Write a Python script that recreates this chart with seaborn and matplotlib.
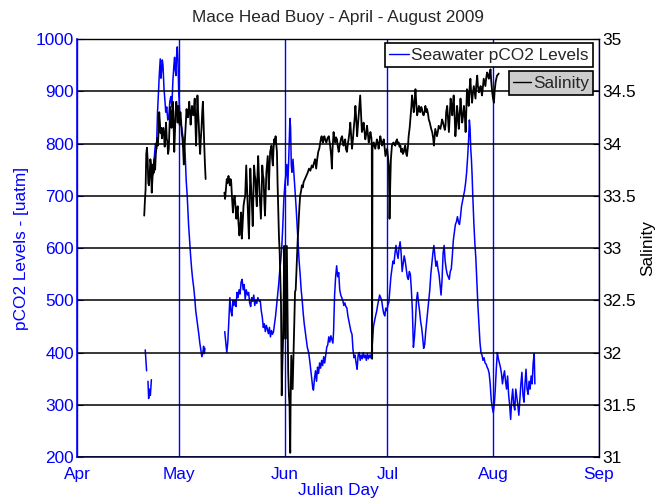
import numpy as np
import pandas as pd
import matplotlib
matplotlib.use('Agg')
import matplotlib.pyplot as plt
import seaborn as sns
from matplotlib.lines import Line2D

# Mace Head buoy, pCO2 and salinity vs julian day
month_days = [91, 121, 152, 182, 213, 244]
month_labels = ['Apr', 'May', 'Jun', 'Jul', 'Aug', 'Sep']
pco2_ticks = [200, 300, 400, 500, 600, 700, 800, 900, 1000]
sal_ticks = [31, 31.5, 32, 32.5, 33, 33.5, 34, 34.5, 35]

# pCO2 (uatm), one list per unbroken stretch of record
pco2_a = [(111.0, 405), (111.2, 385), (111.4, 365)]
pco2_b = [(111.8, 345), (112.0, 312), (112.2, 330), (112.5, 318), (112.8, 348)]
pco2_c = [(113.3, 740), (113.6, 770), (114.0, 800), (114.3, 790), (114.6, 860), (114.9, 900),
          (115.1, 930), (115.4, 962), (115.6, 925), (115.8, 940), (116.0, 960), (116.2, 950),
          (116.5, 905), (116.8, 880), (117.0, 860), (117.3, 870), (117.6, 845), (117.9, 850),
          (118.2, 880), (118.5, 890), (118.8, 870), (119.1, 920), (119.4, 950), (119.6, 965),
          (119.8, 940), (120.0, 930), (120.2, 970), (120.4, 985), (120.6, 960), (120.8, 900),
          (121.1, 860), (121.4, 840), (121.7, 830), (122.0, 815), (122.4, 800), (122.7, 780),
          (123.0, 730), (123.3, 700), (123.7, 645), (124.0, 615), (124.3, 585), (124.6, 560),
          (124.9, 540), (125.2, 525), (125.5, 505), (125.8, 480), (126.1, 465), (126.4, 450),
          (126.7, 435), (127.0, 418), (127.3, 405), (127.6, 392), (127.9, 400), (128.1, 412),
          (128.3, 398), (128.5, 408)]
pco2_d = [(134.3, 440), (134.6, 420), (134.9, 400), (135.2, 420), (135.5, 460), (135.8, 505),
          (136.1, 480), (136.4, 470), (136.7, 500), (137.0, 490), (137.3, 500), (137.6, 488),
          (137.9, 515), (138.2, 505), (138.5, 520), (138.8, 512), (139.1, 535), (139.4, 540),
          (139.7, 520), (140.0, 530), (140.3, 502), (140.6, 520), (141.0, 510), (141.3, 515),
          (141.6, 495), (141.9, 488), (142.2, 505), (142.5, 498), (142.8, 510), (143.1, 490),
          (143.4, 500), (143.7, 494), (144.0, 505), (144.4, 498), (144.7, 500), (145.0, 480),
          (145.3, 468), (145.6, 448), (145.9, 455), (146.2, 440), (146.5, 452), (146.8, 445),
          (147.1, 436), (147.4, 448), (147.7, 430), (148.0, 442), (148.3, 435), (148.6, 440),
          (148.9, 455), (149.2, 470), (149.5, 490), (149.8, 510), (150.1, 530), (150.4, 555),
          (150.7, 575), (151.0, 600), (151.3, 640), (151.6, 690), (151.9, 720), (152.2, 740),
          (152.5, 760), (152.8, 720), (153.1, 780), (153.4, 848), (153.6, 830), (153.8, 760),
          (154.0, 745), (154.3, 770), (154.6, 740), (154.9, 710), (155.2, 680), (155.5, 645),
          (155.8, 610), (156.1, 575), (156.4, 550), (156.7, 520), (157.0, 500), (157.3, 475),
          (157.6, 455), (157.9, 440), (158.2, 425), (158.5, 410), (158.9, 400), (159.2, 385),
          (159.5, 368), (159.8, 350), (160.1, 332), (160.3, 328), (160.6, 350), (160.9, 365),
          (161.2, 345), (161.5, 372), (161.8, 360), (162.1, 380), (162.4, 370), (162.7, 385),
          (163.0, 375), (163.3, 392), (163.6, 380), (163.9, 395), (164.2, 410), (164.5, 415),
          (164.8, 430), (165.1, 420), (165.4, 432), (165.7, 425), (166.0, 418), (166.2, 440),
          (166.5, 510), (166.8, 545), (167.1, 566), (167.4, 545), (167.7, 553), (168.0, 520),
          (168.3, 510), (168.6, 505), (168.9, 500), (169.2, 490), (169.5, 495), (169.8, 488),
          (170.1, 485), (170.4, 470), (170.7, 460), (171.0, 450), (171.3, 440), (171.6, 435),
          (171.9, 405), (172.2, 390), (172.5, 395), (172.8, 380), (173.1, 368), (173.4, 395),
          (173.7, 400), (174.0, 385), (174.3, 395), (174.6, 388), (174.9, 400), (175.2, 390),
          (175.5, 395), (175.8, 385), (176.1, 398), (176.4, 388), (176.7, 395), (177.0, 390),
          (177.3, 398), (177.6, 420), (177.9, 450), (178.2, 460), (178.5, 470), (178.8, 478),
          (179.1, 490), (179.4, 500), (179.7, 510), (180.0, 505), (180.3, 500), (180.6, 485),
          (180.9, 475), (181.2, 470), (181.5, 485), (181.8, 480), (182.1, 490), (182.4, 496),
          (182.7, 520), (183.0, 545), (183.3, 560), (183.6, 575), (183.9, 570), (184.2, 590),
          (184.5, 605), (184.8, 590), (185.1, 580), (185.4, 600), (185.7, 612), (186.0, 590),
          (186.3, 555), (186.6, 570), (186.9, 585), (187.2, 575), (187.5, 560), (187.8, 545),
          (188.1, 540), (188.4, 555), (188.7, 550), (189.0, 520), (189.3, 480), (189.6, 410),
          (189.9, 430), (190.2, 460), (190.5, 500), (190.8, 515), (191.1, 495), (191.4, 480),
          (191.7, 460), (192.0, 448), (192.3, 430), (192.6, 408), (192.9, 415), (193.2, 440),
          (193.5, 460), (193.8, 478), (194.1, 500), (194.4, 520), (194.7, 550), (195.0, 570),
          (195.3, 590), (195.6, 605), (195.9, 585), (196.2, 565), (196.5, 575), (196.8, 560),
          (197.1, 550), (197.4, 530), (197.7, 510), (198.0, 540), (198.3, 590), (198.6, 605),
          (198.9, 575), (199.2, 560), (199.5, 550), (199.8, 545), (200.1, 540), (200.4, 555),
          (200.7, 560), (201.0, 585), (201.3, 615), (201.6, 630), (201.9, 645), (202.2, 650),
          (202.5, 660), (202.8, 650), (203.1, 645), (203.4, 660), (203.7, 680), (204.0, 690),
          (204.3, 700), (204.6, 710), (204.9, 725), (205.2, 745), (205.5, 775), (205.8, 810),
          (206.0, 845), (206.2, 830), (206.4, 790), (206.6, 770), (206.8, 740), (207.0, 700),
          (207.3, 650), (207.6, 610), (207.9, 580), (208.2, 535), (208.5, 490), (208.8, 455),
          (209.1, 420), (209.4, 400), (209.7, 395), (210.0, 385), (210.3, 390), (210.6, 380),
          (210.9, 378), (211.2, 372), (211.5, 368), (211.8, 360), (212.1, 340), (212.4, 310),
          (212.7, 295), (213.0, 285), (213.3, 300), (213.6, 330), (213.9, 370), (214.2, 400),
          (214.5, 388), (214.8, 380), (215.1, 372), (215.4, 360), (215.7, 340), (216.0, 355),
          (216.3, 365), (216.6, 345), (216.9, 330), (217.2, 355), (217.5, 320), (217.8, 300),
          (218.1, 272), (218.4, 310), (218.7, 330), (219.0, 300), (219.3, 290), (219.6, 330),
          (219.9, 315), (220.2, 300), (220.5, 280), (220.8, 310), (221.1, 340), (221.4, 362),
          (221.7, 320), (222.0, 305), (222.3, 340), (222.6, 368), (222.9, 330), (223.2, 320),
          (223.5, 345), (223.8, 330), (224.1, 355), (224.4, 340), (224.7, 380), (225.0, 398),
          (225.2, 340)]

# salinity, same idea
sal_a = [(110.7, 33.31), (110.9, 33.45), (111.1, 33.56), (111.3, 33.90), (111.5, 33.96), (111.7, 33.85),
         (111.9, 33.62), (112.1, 33.60), (112.3, 33.70), (112.5, 33.85), (112.7, 33.80), (112.9, 33.53),
         (113.1, 33.65), (113.3, 33.80), (113.5, 33.72), (113.7, 33.85), (113.9, 33.75), (114.1, 33.90),
         (114.3, 33.97), (114.5, 34.05), (114.7, 33.98), (114.9, 34.11), (115.1, 34.30), (115.3, 34.20),
         (115.5, 34.10), (115.7, 34.15), (115.9, 34.05), (116.1, 34.12), (116.3, 34.15), (116.5, 34.08),
         (116.7, 33.97), (116.9, 34.10), (117.1, 34.20), (117.3, 34.05), (117.5, 34.01), (117.7, 33.90),
         (117.9, 33.95), (118.1, 34.15), (118.3, 34.35), (118.5, 34.25), (118.7, 34.15), (118.9, 34.30),
         (119.1, 34.40), (119.3, 34.20), (119.5, 33.92), (119.7, 34.10), (119.9, 34.30), (120.1, 34.40),
         (120.3, 34.33), (120.5, 34.20), (120.7, 34.36), (120.9, 34.25), (121.1, 34.18), (121.3, 34.30),
         (121.5, 34.22), (121.7, 34.10), (121.9, 34.05), (122.1, 33.95), (122.3, 33.80), (122.5, 33.95),
         (122.7, 34.08), (122.9, 34.20), (123.1, 34.33), (123.3, 34.28), (123.5, 34.25), (123.7, 34.32),
         (123.9, 34.40), (124.1, 34.30), (124.3, 34.18), (124.5, 34.28), (124.7, 34.36), (124.9, 34.30),
         (125.1, 34.27), (125.3, 34.35), (125.5, 34.43), (125.7, 34.20), (125.9, 33.98), (126.1, 34.20),
         (126.3, 34.46), (126.5, 34.30), (126.7, 34.18), (126.9, 34.00), (127.1, 33.90), (127.3, 34.05),
         (127.5, 34.15), (127.7, 34.30), (127.9, 34.40), (128.1, 34.20), (128.3, 33.98), (128.5, 33.80),
         (128.7, 33.66)]
sal_b = [(134.2, 33.53), (134.4, 33.47), (134.6, 33.55), (134.9, 33.66), (135.1, 33.62), (135.4, 33.69),
         (135.6, 33.64), (135.8, 33.60), (136.0, 33.66), (136.2, 33.63), (136.4, 33.50), (136.7, 33.34),
         (136.9, 33.45), (137.2, 33.50), (137.4, 33.42), (137.7, 33.28), (137.9, 33.35), (138.1, 33.40),
         (138.3, 33.25), (138.6, 33.12), (138.8, 33.20), (139.1, 33.34), (139.3, 33.09), (139.5, 33.20),
         (139.8, 33.40), (140.0, 33.45), (140.3, 33.50), (140.6, 33.79), (140.8, 33.60), (141.0, 33.40),
         (141.2, 33.25), (141.4, 33.09), (141.6, 33.40), (141.8, 33.76), (142.0, 33.60), (142.2, 33.47),
         (142.4, 33.30), (142.5, 33.21), (142.7, 33.50), (142.9, 33.79), (143.1, 33.70), (143.3, 33.66),
         (143.5, 33.50), (143.7, 33.40), (143.9, 33.70), (144.1, 33.88), (144.3, 33.70), (144.5, 33.53),
         (144.7, 33.40), (144.9, 33.28), (145.1, 33.50), (145.3, 33.79), (145.5, 33.70), (145.7, 33.66),
         (145.9, 33.45), (146.1, 33.31), (146.3, 33.50), (146.5, 33.72), (146.7, 33.80), (146.9, 33.88),
         (147.1, 33.70), (147.2, 33.56), (147.4, 33.75), (147.6, 33.92), (147.8, 33.95), (148.0, 33.98),
         (148.2, 33.85), (148.4, 33.79), (148.6, 33.95), (148.8, 34.04), (149.0, 34.00), (149.2, 34.07),
         (149.4, 34.00), (149.6, 33.92), (149.8, 33.60), (150.0, 33.34), (150.2, 33.10), (150.4, 32.96),
         (150.6, 32.70), (150.8, 32.45), (150.9, 32.00), (151.0, 31.59), (151.2, 31.90), (151.4, 32.13),
         (151.6, 32.60), (151.7, 33.02), (151.9, 32.50), (152.1, 32.13), (152.3, 32.60), (152.5, 33.02),
         (152.7, 32.40), (152.9, 31.81), (153.1, 31.60), (153.3, 31.49), (153.4, 31.20), (153.5, 31.04),
         (153.6, 31.50), (153.8, 31.97), (154.0, 31.80), (154.2, 31.65), (154.4, 31.90), (154.5, 32.00),
         (154.7, 32.30), (154.9, 32.58), (155.1, 32.60), (155.3, 32.77), (155.5, 32.95), (155.7, 33.09),
         (155.9, 33.20), (156.0, 33.28), (156.2, 33.40), (156.4, 33.50), (156.7, 33.55), (156.9, 33.60),
         (157.2, 33.58), (157.4, 33.63), (157.8, 33.66), (158.2, 33.69), (158.6, 33.72), (159.0, 33.76),
         (159.4, 33.74), (159.8, 33.79), (160.1, 33.77), (160.5, 33.82), (160.8, 33.85), (161.1, 33.76),
         (161.4, 33.85), (161.7, 33.92), (162.0, 33.95), (162.3, 34.01), (162.5, 34.05), (162.7, 34.07),
         (162.9, 34.03), (163.1, 34.01), (163.3, 34.05), (163.5, 34.07), (163.8, 34.03), (164.1, 34.01),
         (164.4, 34.05), (164.8, 34.07), (165.0, 34.02), (165.2, 33.98), (165.5, 33.88), (165.7, 33.76),
         (165.9, 33.95), (166.2, 34.11), (166.4, 34.05), (166.7, 34.01), (166.9, 34.06), (167.2, 34.04),
         (167.4, 33.98), (167.7, 33.92), (167.9, 33.97), (168.2, 34.01), (168.4, 34.05), (168.7, 34.07),
         (168.9, 34.02), (169.1, 33.98), (169.4, 34.02), (169.6, 34.04), (169.8, 33.95), (170.1, 33.92),
         (170.4, 34.00), (170.6, 34.04), (170.9, 34.12), (171.1, 34.20), (171.4, 34.05), (171.6, 33.95),
         (171.9, 34.05), (172.1, 34.14), (172.4, 34.25), (172.6, 34.36), (172.9, 34.20), (173.1, 34.07),
         (173.4, 34.20), (173.6, 34.30), (173.8, 34.38), (174.0, 34.46), (174.3, 34.25), (174.5, 34.11),
         (174.8, 34.15), (175.0, 34.20), (175.3, 34.10), (175.5, 34.04), (175.8, 34.10), (176.0, 34.17),
         (176.3, 34.08), (176.5, 34.01), (176.8, 34.06), (177.0, 34.11), (177.3, 34.05), (177.4, 33.98),
         (177.5, 31.94), (177.6, 33.95), (177.8, 34.00), (178.0, 34.01), (178.2, 33.98), (178.4, 33.95),
         (178.7, 34.00), (178.9, 34.04), (179.2, 34.00), (179.4, 33.95), (179.7, 34.02), (179.9, 34.07),
         (180.2, 34.02), (180.4, 33.98), (180.7, 34.01), (180.9, 34.04), (181.2, 33.95), (181.4, 33.88),
         (181.7, 33.92), (181.9, 33.95), (182.2, 33.85), (182.4, 33.79), (182.6, 33.28), (182.8, 33.60),
         (183.0, 33.85), (183.3, 33.98), (183.5, 34.00), (183.8, 34.01), (184.0, 33.99), (184.3, 33.98),
         (184.5, 34.02), (184.8, 34.04), (185.0, 34.00), (185.3, 34.01), (185.5, 33.97), (185.8, 33.98),
         (186.0, 33.92), (186.3, 33.95), (186.5, 33.90), (186.8, 33.92), (187.0, 33.96), (187.2, 33.98),
         (187.5, 33.90), (187.7, 33.88), (188.0, 33.97), (188.2, 34.07), (188.5, 34.15), (188.7, 34.23),
         (189.0, 34.35), (189.2, 34.46), (189.5, 34.38), (189.7, 34.30), (190.0, 34.42), (190.2, 34.52),
         (190.5, 34.35), (190.7, 34.27), (191.0, 34.32), (191.2, 34.36), (191.4, 34.31), (191.6, 34.30),
         (191.9, 34.35), (192.1, 34.33), (192.4, 34.28), (192.6, 34.27), (192.9, 34.31), (193.1, 34.36),
         (193.4, 34.30), (193.6, 34.33), (193.9, 34.28), (194.1, 34.23), (194.4, 34.20), (194.6, 34.17),
         (194.9, 34.13), (195.1, 34.11), (195.4, 34.05), (195.6, 33.98), (195.8, 34.06), (196.0, 34.14),
         (196.3, 34.10), (196.5, 34.07), (196.8, 34.12), (197.0, 34.17), (197.3, 34.15), (197.5, 34.14),
         (197.8, 34.19), (198.0, 34.23), (198.3, 34.20), (198.5, 34.17), (198.8, 34.13), (199.0, 34.17),
         (199.2, 34.30), (199.5, 34.36), (199.8, 34.20), (200.0, 34.11), (200.3, 34.30), (200.5, 34.43),
         (200.8, 34.35), (201.0, 34.27), (201.2, 34.38), (201.4, 34.46), (201.7, 34.25), (201.9, 34.07),
         (202.2, 34.20), (202.4, 34.36), (202.7, 34.25), (202.9, 34.14), (203.2, 34.30), (203.4, 34.43),
         (203.7, 34.30), (203.9, 34.20), (204.2, 34.28), (204.4, 34.36), (204.7, 34.25), (204.9, 34.11),
         (205.1, 34.30), (205.3, 34.52), (205.6, 34.45), (205.8, 34.36), (206.0, 34.50), (206.3, 34.62),
         (206.5, 34.50), (206.8, 34.39), (207.0, 34.47), (207.3, 34.55), (207.5, 34.50), (207.8, 34.43),
         (208.0, 34.55), (208.3, 34.65), (208.5, 34.55), (208.8, 34.49), (209.0, 34.52), (209.3, 34.55),
         (209.5, 34.50), (209.7, 34.46), (210.0, 34.55), (210.2, 34.62), (210.5, 34.58), (210.7, 34.55),
         (210.9, 34.62), (211.2, 34.68), (211.4, 34.65), (211.7, 34.62), (211.9, 34.67), (212.2, 34.71),
         (212.4, 34.60), (212.7, 34.49), (212.9, 34.44), (213.2, 34.39), (213.4, 34.50), (213.7, 34.59),
         (213.9, 34.62), (214.1, 34.65), (214.4, 34.66), (214.6, 34.67)]


def to_frame(segments):
    rows = []
    for i, seg in enumerate(segments):
        for d, v in seg:
            rows.append({'day': d, 'value': v, 'seg': i})
    return pd.DataFrame(rows)


pco2 = to_frame([pco2_a, pco2_b, pco2_c, pco2_d])
sal = to_frame([sal_a, sal_b])

blue = '#0000ff'
fs = 12.4

sns.set_style('white')
plt.rcParams['font.family'] = ['Liberation Sans', 'DejaVu Sans']

fig = plt.figure(figsize=(6.69, 5.01), dpi=100)
ax1 = fig.add_axes([0.1151, 0.0878, 0.7803, 0.8343])
ax2 = ax1.twinx()

sns.lineplot(data=pco2, x='day', y='value', units='seg', estimator=None,
             color=blue, lw=1.1, ax=ax1, legend=False)
sns.lineplot(data=sal, x='day', y='value', units='seg', estimator=None,
             color='black', lw=1.3, ax=ax2, legend=False)

ax1.set_xlim(month_days[0], month_days[-1])
ax1.set_ylim(200, 1000)
ax2.set_ylim(31, 35)

ax1.set_xticks(month_days, month_labels)
ax1.set_yticks(pco2_ticks)
ax2.set_yticks(sal_ticks, ['%g' % t for t in sal_ticks])

ax1.xaxis.grid(True, color=blue, lw=1.0)
ax1.yaxis.grid(False)
ax2.yaxis.grid(True, color='black', lw=1.1)
ax2.xaxis.grid(False)

ax1.tick_params(axis='both', colors=blue, labelsize=fs, direction='in', length=4)
ax1.tick_params(axis='x', pad=7)
ax1.tick_params(axis='y', pad=2)
ax2.tick_params(axis='y', colors='black', labelsize=fs, direction='in', length=4, pad=2)

ax1.set_xlabel('Julian Day', color=blue, fontsize=fs, labelpad=1)
ax1.set_ylabel('pCO2 Levels - [uatm]', color=blue, fontsize=fs, labelpad=5)
ax2.set_ylabel('Salinity', color='black', fontsize=fs, labelpad=3)
ax1.set_title('Mace Head Buoy - April - August 2009', fontsize=fs, pad=12)

for s in ['top', 'right']:
    ax1.spines[s].set_visible(False)
for s in ['left', 'bottom']:
    ax1.spines[s].set_color(blue)
    ax1.spines[s].set_linewidth(1.2)
    ax2.spines[s].set_visible(False)
for s in ['top', 'right']:
    ax2.spines[s].set_color('black')
    ax2.spines[s].set_linewidth(1.0)

leg1 = ax2.legend(handles=[Line2D([], [], color=blue, lw=1)], labels=['Seawater pCO2 Levels'],
                  loc='upper right', bbox_to_anchor=(0.989, 0.990), borderaxespad=0,
                  fontsize=fs, handlelength=1.15, handletextpad=0.15, borderpad=0.25,
                  fancybox=False, framealpha=1, edgecolor='black', facecolor='white')
leg1.get_frame().set_linewidth(1.2)
ax2.add_artist(leg1)
leg2 = ax2.legend(handles=[Line2D([], [], color='black', lw=1)], labels=['Salinity'],
                  loc='upper right', bbox_to_anchor=(0.989, 0.923), borderaxespad=0,
                  fontsize=fs, handlelength=1.0, handletextpad=0.15, borderpad=0.25,
                  fancybox=False, framealpha=1, edgecolor='black', facecolor='#cccccc')
leg2.get_frame().set_linewidth(1.2)

fig.savefig('out.png', dpi=100)
